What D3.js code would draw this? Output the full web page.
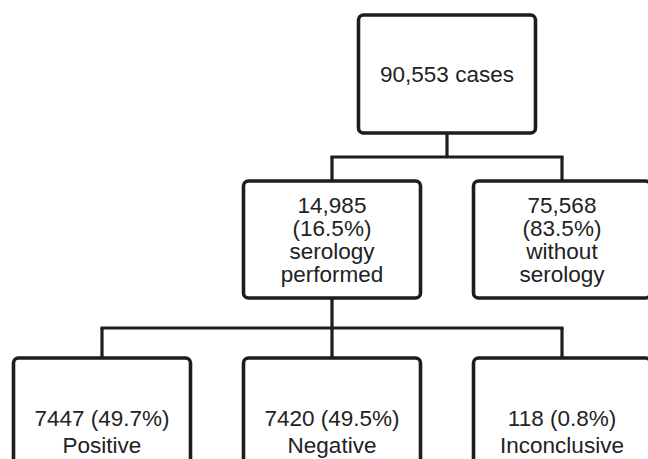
<!DOCTYPE html>
<html>
<head>
<meta charset="utf-8">
<script src="https://cdn.jsdelivr.net/npm/d3@7"></script>
<style>
  html, body { margin: 0; padding: 0; background: #fff; }
  svg { display: block; }
</style>
</head>
<body>
<script>
// flowchart data
const nodeIds = ["all", "sero", "noSero", "pos", "neg", "inc"];
const parentIds = [null, "all", "all", "sero", "sero", "sero"];
const counts = ["90,553", "14,985", "75,568", "7447", "7420", "118"];
const percents = [null, "16.5%", "83.5%", "49.7%", "49.5%", "0.8%"];
const descriptions = [["cases"], ["serology", "performed"], ["without", "serology"],
  ["Positive"], ["Negative"], ["Inconclusive"]];
const levels = [0, 1, 1, 2, 2, 2];
const columns = [1.5, 1, 2, 0, 1, 2];

function draw() {
  "use strict";
  const width = 648, height = 459;

  const svg = d3.select("body").append("svg")
    .attr("width", width)
    .attr("height", height);

  // column index -> box centre, level -> box top
  const x = d3.scaleLinear().domain([0, 2]).range([102, 562]);
  const y = d3.scaleLinear().domain([0, 1, 2]).range([15, 181, 358]);
  const boxW = 177;
  const boxH = [118, 117, 140];
  const lineH = [24, 23.3, 27];
  const textMid = [74, 239.5, 431];   // offset from level start handled below

  const nodes = nodeIds.map((id, i) => {
    let lines;
    if (levels[i] === 0) lines = [counts[i] + " " + descriptions[i][0]];
    else if (levels[i] === 1) lines = [counts[i], "(" + percents[i] + ")"].concat(descriptions[i]);
    else lines = [counts[i] + " (" + percents[i] + ")"].concat(descriptions[i]);
    return {id: id, parent: parentIds[i], level: levels[i], col: columns[i], lines: lines};
  });
  const byId = new Map(nodes.map(d => [d.id, d]));

  const ink = "#1d1d1d";

  // connectors
  const parents = nodes.filter(p => nodes.some(c => c.parent === p.id));
  parents.forEach(p => {
    const kids = nodes.filter(c => c.parent === p.id);
    const pBottom = y(p.level) + boxH[p.level];
    const kTop = y(p.level + 1);
    const midY = (pBottom + kTop) / 2;
    const g = svg.append("g")
      .attr("stroke", ink)
      .attr("stroke-width", 3.2)
      .attr("fill", "none");
    g.append("line")
      .attr("x1", x(p.col)).attr("x2", x(p.col))
      .attr("y1", pBottom).attr("y2", midY);
    const xs = kids.map(k => x(k.col));
    g.append("line")
      .attr("x1", d3.min(xs) - 1.6).attr("x2", d3.max(xs) + 1.6)
      .attr("y1", midY).attr("y2", midY);
    g.selectAll("line.down")
      .data(kids)
      .enter().append("line")
      .attr("class", "down")
      .attr("x1", d => x(d.col)).attr("x2", d => x(d.col))
      .attr("y1", midY).attr("y2", kTop);
  });

  // boxes
  const box = svg.selectAll("g.node")
    .data(nodes)
    .enter().append("g")
    .attr("class", "node");

  box.append("rect")
    .attr("x", d => x(d.col) - boxW / 2)
    .attr("y", d => y(d.level))
    .attr("width", boxW)
    .attr("height", d => boxH[d.level])
    .attr("rx", 5)
    .attr("fill", "#fff")
    .attr("stroke", ink)
    .attr("stroke-width", 3.6);

  box.each(function(d) {
    const lh = lineH[d.level];
    const first = textMid[d.level] - (d.lines.length - 1) * lh / 2 + 8;
    const t = d3.select(this).append("text")
      .attr("text-anchor", "middle")
      .attr("font-family", "'Liberation Sans', Arial, Helvetica, sans-serif")
      .attr("font-size", 22.5)
      .attr("fill", "#222");
    t.selectAll("tspan")
      .data(d.lines)
      .enter().append("tspan")
      .attr("x", x(d.col))
      .attr("y", (s, i) => first + i * lh)
      .text(s => s);
  });
}

draw();
</script>
</body>
</html>
